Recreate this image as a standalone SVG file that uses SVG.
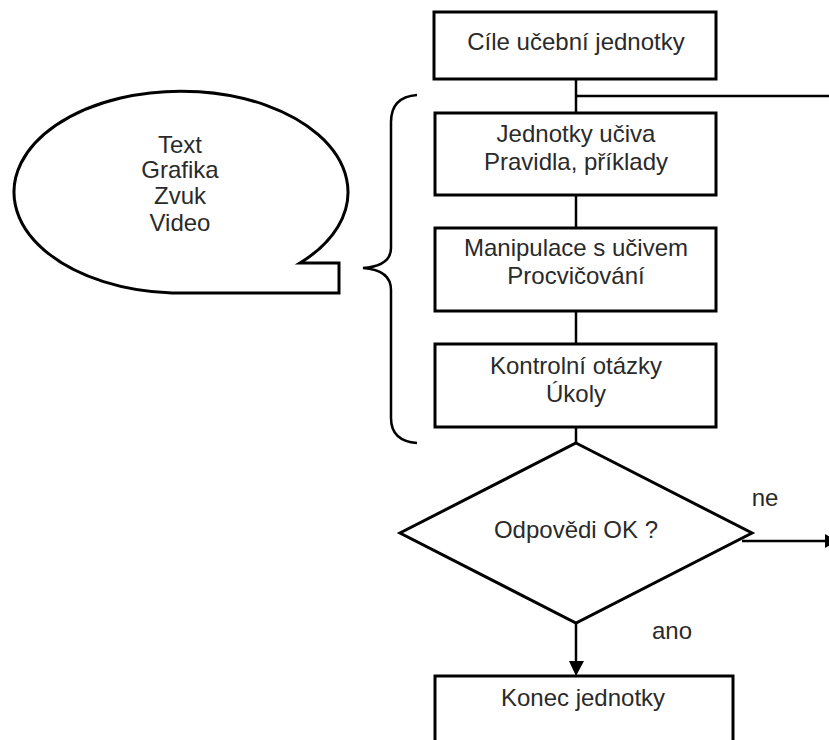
<svg xmlns="http://www.w3.org/2000/svg" width="829" height="740" viewBox="0 0 829 740">
<style>
.box{fill:#fff;stroke:#000;stroke-width:3}
.ln{fill:none;stroke:#000;stroke-width:2.5}
.t{font-family:"Liberation Sans",Arial,sans-serif;font-size:24px;fill:#2a2a2a;text-anchor:middle}
</style>
<rect width="829" height="740" fill="#fff"/>
<g id="connectors">
<line class="ln" x1="576" y1="79" x2="576" y2="113"/>
<line class="ln" x1="576" y1="96" x2="829" y2="96"/>
<line class="ln" x1="576" y1="195" x2="576" y2="228"/>
<line class="ln" x1="576" y1="311" x2="576" y2="344"/>
<line class="ln" x1="576" y1="427" x2="576" y2="443"/>
<line class="ln" x1="742" y1="541" x2="827" y2="541" stroke-width="3"/>
<polygon points="825,534 825,548 838,541" fill="#000"/>
<line class="ln" x1="576" y1="623" x2="576" y2="664" stroke-width="3"/>
<polygon points="569,661 584,661 576,676" fill="#000"/>
</g>
<g id="cile">
<rect class="box" x="434" y="12" width="282" height="67"/>
<text class="t" x="576" y="50">Cíle učební jednotky</text>
</g>
<g id="jednotky">
<rect class="box" x="435" y="113" width="281" height="82"/>
<text class="t" x="576" y="142">Jednotky učiva</text>
<text class="t" x="576" y="170">Pravidla, příklady</text>
</g>
<g id="manipulace">
<rect class="box" x="435" y="228" width="281" height="83"/>
<text class="t" x="576" y="256">Manipulace s učivem</text>
<text class="t" x="576" y="284">Procvičování</text>
</g>
<g id="kontrolni">
<rect class="box" x="435" y="344" width="281" height="83"/>
<text class="t" x="576" y="374">Kontrolní otázky</text>
<text class="t" x="576" y="402">Úkoly</text>
</g>
<g id="odpovedi">
<polygon class="box" points="576,443 752,533 576,623 400,533"/>
<text class="t" x="576" y="538">Odpovědi OK ?</text>
<text class="t" x="765" y="506">ne</text>
<text class="t" x="672" y="639">ano</text>
</g>
<g id="konec">
<rect class="box" x="435" y="676" width="298" height="80"/>
<text class="t" x="583" y="706">Konec jednotky</text>
</g>
<g id="media">
<path class="box" d="M300,263 L339,263 L339,293 L172,293 A167,101 0 1 1 300,263 Z"/>
<text class="t" x="180" y="153">Text</text>
<text class="t" x="180" y="178">Grafika</text>
<text class="t" x="180" y="204">Zvuk</text>
<text class="t" x="180" y="231">Video</text>
</g>
<g id="brace">
<path class="ln" stroke-width="3" d="M417,95 Q391,97 391,122 L391,248 Q391,266 363,268 Q391,270 391,290 L391,418 Q391,441 417,443"/>
</g>
</svg>
